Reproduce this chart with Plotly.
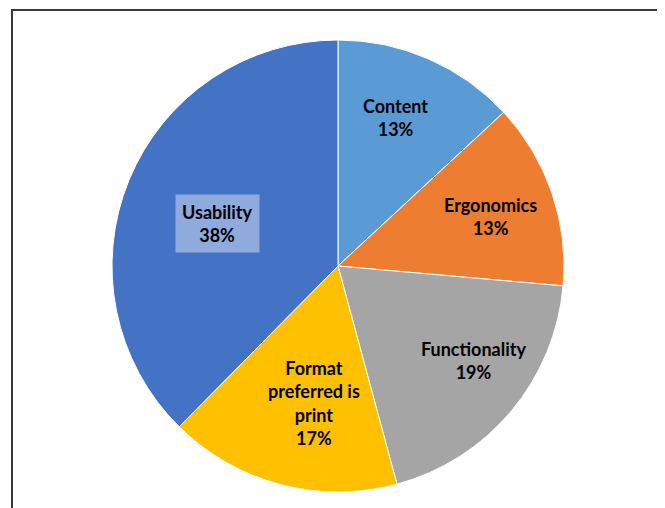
import math
import plotly.graph_objects as go

labels = ["Content", "Ergonomics", "Functionality", "Format preferred is print", "Usability"]
display_labels = ["Content", "Ergonomics", "Functionality", "Format<br>preferred is<br>print", "Usability"]
values = [13.1, 13.3, 19.4, 16.6, 37.6]
colors = ["#5B9BD5", "#ED7D31", "#A5A5A5", "#FFC000", "#4472C4"]

# label placement (style): angle tweak (deg) and radius fraction
label_angle_tweak = [-2.5, 1.0, -5.0, -5.0, -3.0]
label_radius = [0.705, 0.71, 0.73, 0.615, 0.565]

W, H = 665, 508
OFF = 8  # page body margin
L, T, S = 112 - OFF, 40 - OFF, 452  # plot area left, top, size

fig = go.Figure(go.Pie(
    labels=labels, values=values, sort=False, direction="clockwise", rotation=0,
    marker=dict(colors=colors, line=dict(color="white", width=1)),
    textinfo="none", hoverinfo="label+percent", showlegend=False,
))

total = sum(values)
cum = 0
annotations = []
for i, v in enumerate(values):
    mid = (cum + v / 2) / total * 360 + label_angle_tweak[i]
    cum += v
    r = label_radius[i] * 0.5
    x = 0.5 + r * math.sin(math.radians(mid))
    y = 0.5 + r * math.cos(math.radians(mid))
    pct = round(v / total * 100)
    ann = dict(x=x, y=y, xref="paper", yref="paper", showarrow=False,
               xanchor="center", yanchor="middle",
               text=f"<b>{display_labels[i]}<br>{pct}%</b>",
               font=dict(family="Lato, Liberation Sans, sans-serif", size=18, color="#000000"),
               align="center")
    if labels[i] == "Usability":
        ann.update(bgcolor="#8FAADC", borderpad=6)
    annotations.append(ann)

fig.update_layout(
    width=W, height=H,
    margin=dict(l=L, r=W - L - S, t=T, b=H - T - S, pad=0),
    paper_bgcolor="white", plot_bgcolor="white",
    annotations=annotations,
    shapes=[dict(type="rect", xref="paper", yref="paper",
                 x0=(12 - OFF - L) / S, x1=(663 - OFF - L) / S,
                 y0=(T + S - 520) / S, y1=(T + S - (10 - OFF)) / S,
                 line=dict(color="#3a3a3a", width=2), fillcolor="rgba(0,0,0,0)")],
)

fig.write_html("out.html")
